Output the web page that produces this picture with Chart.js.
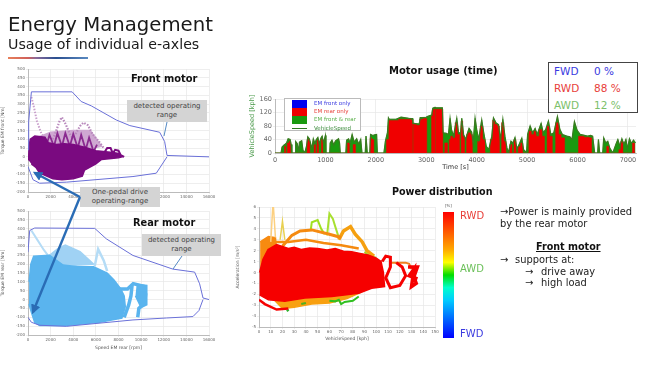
<!DOCTYPE html>
<html lang="en">
<head>
<meta charset="UTF-8">
<title>Energy Management</title>
<script src="https://cdn.jsdelivr.net/npm/chart.js"></script>
<style>
  html, body { margin: 0; padding: 0; background: #fff; }
  #slide { position: relative; width: 653px; height: 367px; overflow: hidden; font-family: "DejaVu Sans", sans-serif; filter: blur(0.5px); }
  #slide canvas { position: absolute; }
  .t { position: absolute; white-space: nowrap; line-height: 1; color: #222; }
  .b { font-weight: bold; color: #111; }
  .box { position: absolute; background: #d4d4d4; color: #444; font-size: 7px; line-height: 9px; text-align: center; box-sizing: border-box; }
  #rule { position: absolute; left: 8px; top: 57px; width: 80px; height: 2px; background: linear-gradient(90deg, #e8805a 0%, #d0605a 25%, #8a6a9a 35%, #2a4f90 60%, #5a8ac0 100%); }
  #usage { position: absolute; left: 548px; top: 62px; width: 90px; height: 51px; border: 1px solid #444; box-sizing: border-box; background: #fff; }
  #legend { position: absolute; left: 284px; top: 98px; width: 77px; height: 33px; border: 1px solid #bbb; box-sizing: border-box; background: #fff; }
  #legend span { position: absolute; left: 29px; font-size: 5.5px; line-height: 1; white-space: nowrap; }
  #legend i { position: absolute; left: 7px; width: 15px; }
  #colorbar { position: absolute; left: 443px; top: 212px; width: 11px; height: 126px; background: linear-gradient(180deg, #f00 0%, #f60 18%, #fa0 30%, #ff0 40%, #0d0 50%, #0fc 60%, #0cf 70%, #06f 85%, #00f 100%); }
  svg { position: absolute; left: 0; top: 0; }
</style>
</head>
<body>
<div id="slide">
  <canvas id="front"></canvas>
  <canvas id="rear"></canvas>
  <canvas id="motor"></canvas>
  <canvas id="power"></canvas>

  <div class="t" style="left:8px;top:15px;font-size:19.7px;color:#1a1a1a">Energy Management</div>
  <div class="t" style="left:8px;top:37px;font-size:14.2px;color:#1a1a1a">Usage of individual e-axles</div>
  <div id="rule"></div>

  <div class="t b" style="left:131px;top:74px;font-size:9.9px">Front motor</div>
  <div class="t b" style="left:133px;top:218px;font-size:9.8px">Rear motor</div>
  <div class="t b" style="left:389px;top:66px;font-size:10px">Motor usage (time)</div>
  <div class="t b" style="left:392px;top:187px;font-size:9.6px">Power distribution</div>

  <div class="box" style="left:127px;top:100px;width:80px;height:22px;padding-top:2px">detected operating<br>range</div>
  <div class="box" style="left:142px;top:234px;width:79px;height:22px;padding-top:2px">detected operating<br>range</div>
  <div class="box" style="left:80px;top:187px;width:80px;height:20px;padding-top:1px">One-pedal drive<br>operating-range</div>

  <svg width="653" height="367" viewBox="0 0 653 367">
    <defs>
      <marker id="tip" markerWidth="4" markerHeight="4" refX="3" refY="2" orient="auto"><path d="M0,0 L4,2 L0,4 z" fill="#2a6cb5"/></marker>
    </defs>
    <line x1="80" y1="197" x2="35" y2="173" stroke="#2a6cb5" stroke-width="2.4" marker-end="url(#tip)"/>
    <line x1="80" y1="197" x2="33" y2="312" stroke="#2a6cb5" stroke-width="2.4" marker-end="url(#tip)"/>
    <line x1="167" y1="122" x2="164" y2="136" stroke="#2a6cb5" stroke-width="0.8"/>
    <line x1="182" y1="256" x2="173" y2="269" stroke="#2a6cb5" stroke-width="0.8"/>
  </svg>

  <div id="usage"></div>
  <div class="t" style="left:554px;top:66px;font-size:10.5px;color:#3a3ae0">FWD</div>
  <div class="t" style="left:594px;top:66px;font-size:10.5px;color:#3a3ae0">0 %</div>
  <div class="t" style="left:554px;top:83px;font-size:10.5px;color:#e8403a">RWD</div>
  <div class="t" style="left:594px;top:83px;font-size:10.5px;color:#e8403a">88 %</div>
  <div class="t" style="left:554px;top:100px;font-size:10.5px;color:#7cc06a">AWD</div>
  <div class="t" style="left:594px;top:100px;font-size:10.5px;color:#7cc06a">12 %</div>

  <div id="legend"></div>

  <div id="colorbar"></div>
  <div class="t" style="left:445px;top:204px;font-size:4px;color:#555">[%]</div>
  <div class="t" style="left:460px;top:211px;font-size:10px;color:#e8403a">RWD</div>
  <div class="t" style="left:460px;top:264px;font-size:10px;color:#6cc05a">AWD</div>
  <div class="t" style="left:460px;top:329px;font-size:10px;color:#3a3ae0">FWD</div>

  <div class="t" style="left:500px;top:207px;font-size:9.9px">→Power is mainly provided</div>
  <div class="t" style="left:500px;top:219px;font-size:9.9px">by the rear motor</div>
  <div class="t b" style="left:536px;top:242px;font-size:9.6px;text-decoration:underline">Front motor</div>
  <div class="t" style="left:500px;top:255px;font-size:9.9px">→</div>
  <div class="t" style="left:515px;top:255px;font-size:9.9px">supports at:</div>
  <div class="t" style="left:525px;top:267px;font-size:9.9px">→</div>
  <div class="t" style="left:541px;top:267px;font-size:9.9px">drive away</div>
  <div class="t" style="left:525px;top:278px;font-size:9.9px">→</div>
  <div class="t" style="left:541px;top:278px;font-size:9.9px">high load</div>
</div>

<script>
// front motor, speed in rpm, torque in Nm
const frontLimitSpeed = [0, 60, 300, 3900, 4700, 5600, 7800, 9000, 11640, 12080, 12290, 16000];
const frontLimitTorque = [40, 200, 370, 370, 315, 290, 210, 178, 140, 87, 8, 0];
const frontLowSpeed = [0, 440, 1030, 3390, 9280, 11340, 12290];
const frontLowTorque = [-55, -130, -150, -144, -112, -93, 0];
const frontBlobSpeed = [50, 100, 200, 600, 1500, 1800, 2500, 3200, 4000, 5000, 6000, 7500, 8000, 8300, 8000, 6500, 6000, 5000, 4800, 4000, 3000, 2200, 1500, 1000, 700, 300];
const frontBlobTorque = [-20, 60, 100, 118, 112, 80, 70, 75, 70, 55, 35, 25, 20, 0, -5, -15, -40, -75, -110, -125, -130, -125, -105, -90, -60, -40];
const frontPaleSpeed = [1000, 2000, 4000, 5500, 6500, 5000, 1000];
const frontPaleTorque = [115, 140, 150, 150, 60, 40, 50];
const frontZigSpeed = [1600, 1900, 2300, 2600, 3000, 3300, 3700, 4000, 4400, 4700, 5100, 5400, 5800, 6100];
const frontZigTorque = [60, 125, 60, 135, 60, 135, 60, 130, 50, 125, 40, 110, 30, 70];
const frontTrail1Speed = [300, 500, 800, 1200, 1500];
const frontTrail1Torque = [340, 290, 200, 130, 100];
const frontTrail2Speed = [2200, 2500, 2800, 3000, 3300, 3700, 4000];
const frontTrail2Torque = [100, 150, 205, 225, 190, 130, 100];
const frontTrail3Speed = [4200, 4600, 4900, 5300, 5700, 6300, 6700];
const frontTrail3Torque = [130, 175, 195, 180, 130, 85, 50];
const frontTailSpeed = [6800, 7000, 7300, 7500, 7700, 8000, 8200, 8500];
const frontTailTorque = [30, 50, 50, 20, 40, 35, 10, 0];

// rear motor
const rearLimitSpeed = [0, 150, 590, 5900, 6920, 9280, 12800, 13260, 14730, 15170, 15470, 16000];
const rearLimitTorque = [268, 390, 404, 402, 343, 249, 172, 168, 155, 89, 9, 0];
const rearLowSpeed = [0, 295, 1030, 3390, 9280, 12230, 14580, 15110, 15470];
const rearLowTorque = [-100, -128, -145, -151, -115, -104, -96, -62, 0];
const rearBlobSpeed = [100, 250, 500, 1900, 3100, 4400, 5800, 7000, 7600, 8200, 8500, 8600, 8300, 6330, 3390, 1030, 590, 300, 90];
const rearBlobTorque = [100, 200, 245, 250, 195, 185, 185, 150, 110, 60, 20, -40, -105, -128, -147, -147, -128, -72, -25];
const rearPale1Speed = [300, 800, 1400, 2000];
const rearPale1Torque = [390, 340, 280, 230];
const rearPaleSpeed = [1900, 2700, 3300, 4600, 5800, 3100];
const rearPaleTorque = [250, 290, 308, 270, 200, 190];
const rearPale2Speed = [5900, 6200, 6700, 7000];
const rearPale2Torque = [190, 285, 220, 160];
const rearLoopSpeed = [7800, 8200, 8800, 9300, 10200, 10400, 10300, 9800, 9700];
const rearLoopTorque = [-60, 60, 60, 90, 75, 30, -20, -50, -100];
const rearLoop2Speed = [8500, 8900, 9100, 9200];
const rearLoop2Torque = [-100, -30, 20, 80];
const rearPatchSpeed = [9600, 10500, 10500, 10000, 9500];
const rearPatchTorque = [85, 80, -30, -45, 20];

// motor usage, time in s, speed in kph, rearOnly = height of the red part
const usageTime = [0, 120, 140, 180, 200, 230, 260, 300, 320, 335, 400, 410, 440, 470, 485, 530, 555, 590, 625, 650, 680, 700, 730, 760, 790, 820, 850, 880, 910, 935, 960, 1000, 1010, 1085, 1095, 1130, 1165, 1200, 1260, 1280, 1295, 1405, 1420, 1460, 1490, 1530, 1570, 1620, 1660, 1700, 1725, 1790, 1805, 1830, 1880, 1895, 1940, 1980, 2015, 2030, 2160, 2190, 2230, 2250, 2265, 2400, 2500, 2650, 2725, 2735, 2750, 2860, 2880, 3000, 3020, 3100, 3110, 3130, 3170, 3180, 3195, 3320, 3335, 3400, 3440, 3472, 3500, 3540, 3605, 3640, 3680, 3704, 3740, 3780, 3820, 3849, 3900, 3930, 3968, 4000, 4040, 4100, 4140, 4190, 4240, 4300, 4333, 4380, 4433, 4470, 4519, 4560, 4600, 4632, 4680, 4720, 4760, 4800, 4850, 4895, 4930, 4990, 5010, 5060, 5110, 5159, 5200, 5278, 5320, 5370, 5423, 5470, 5530, 5602, 5650, 5700, 5787, 5850, 5890, 5939, 5990, 6051, 6200, 6260, 6300, 6340, 6400, 6415, 6440, 6500, 6520, 6560, 6600, 6640, 6700, 6760, 6800, 6840, 6880, 6920, 6960, 6990, 7030, 7070, 7110, 7150];
const usageSpeed = [0, 0, 18, 24, 26, 30, 42, 40, 25, 0, 0, 34, 28, 5, 32, 36, 8, 0, 20, 48, 42, 32, 12, 42, 28, 40, 46, 26, 44, 50, 30, 52, 0, 0, 30, 38, 24, 36, 42, 30, 0, 0, 38, 42, 30, 55, 32, 42, 26, 40, 0, 0, 50, 0, 0, 55, 52, 54, 55, 0, 0, 35, 60, 104, 100, 100, 106, 103, 102, 88, 88, 86, 105, 106, 108, 112, 115, 133, 135, 135, 134, 134, 60, 58, 55, 103, 70, 50, 103, 60, 60, 103, 55, 40, 60, 73, 62, 30, 103, 70, 40, 98, 60, 20, 10, 50, 104, 90, 84, 40, 100, 50, 15, 2, 35, 30, 46, 12, 28, 44, 10, 2, 55, 80, 60, 73, 55, 88, 60, 70, 95, 55, 60, 108, 70, 55, 50, 48, 40, 93, 68, 55, 50, 52, 50, 0, 0, 40, 0, 0, 45, 30, 35, 15, 0, 25, 40, 20, 42, 25, 40, 12, 42, 28, 38, 30];
const usageRearOnly = [0, 0, 0, 0, 20, 0, 30, 35, 0, 0, 0, 0, 0, 0, 0, 0, 0, 0, 0, 40, 35, 0, 0, 0, 25, 0, 38, 0, 0, 40, 0, 0, 0, 0, 0, 0, 0, 0, 0, 0, 0, 0, 0, 30, 0, 0, 25, 0, 0, 0, 0, 0, 0, 0, 0, 45, 40, 0, 0, 0, 0, 0, 40, 40, 96, 96, 100, 100, 98, 0, 85, 82, 100, 102, 0, 0, 110, 128, 130, 0, 130, 130, 0, 30, 0, 40, 50, 45, 90, 55, 0, 95, 50, 0, 55, 60, 55, 0, 0, 0, 35, 80, 40, 0, 0, 40, 98, 85, 80, 0, 90, 35, 0, 0, 25, 0, 40, 0, 20, 30, 0, 0, 0, 65, 55, 65, 50, 70, 50, 0, 80, 50, 0, 90, 55, 45, 0, 0, 0, 0, 0, 50, 47, 45, 0, 0, 0, 0, 0, 0, 0, 0, 20, 0, 0, 0, 0, 10, 35, 0, 0, 0, 0, 0, 30, 0];
const usageTimeTicks = [0, 1000, 2000, 3000, 4000, 5000, 6000, 7000];
const usageLegendNames = ['EM front only', 'EM rear only', 'EM front & rear', 'VehicleSpeed'];

// power distribution, speed in kph, acceleration in m/s2
const powerBlobSpeed = [0.5, 3.4, 7.7, 15, 25, 30, 36, 43, 50, 58, 65, 72, 79, 86, 93, 100, 104, 106, 107, 96, 85, 62, 39, 22, 8, 0.5];
const powerBlobAccel = [0, 1.2, 2.1, 2.55, 2.2, 2.3, 2.1, 2.25, 2.2, 2.05, 2.2, 1.95, 1.9, 1.75, 1.6, 1.3, 1, 0, -1.3, -1.45, -1.9, -2.2, -2.35, -2.65, -2.5, -2.05];
const powerOrangeLowSpeed = [12, 20, 30, 45, 60, 75, 85, 60, 30];
const powerOrangeLowAccel = [-2.4, -3.3, -3.2, -2.9, -2.8, -2.4, -1.9, -2.1, -2.4];
const powerOrangeTopSpeed = [1, 8, 14, 15, 5, 1];
const powerOrangeTopAccel = [2.8, 3.3, 3.2, 2, -1, -1];
const powerArcSpeed = [20, 28, 35, 45, 60, 70];
const powerArcAccel = [2.4, 3.4, 3.8, 3.9, 3.5, 3.2];
const powerArc3Speed = [14, 25, 40, 55, 70, 85];
const powerArc3Accel = [2.8, 2.8, 3, 2.7, 2.5, 2.2];
const powerArc2Speed = [68, 72, 78, 82, 88, 92, 98];
const powerArc2Accel = [3, 3.8, 4.2, 3.5, 2.8, 2, 1.5];
const powerSpikeSpeed = [10, 12, 14];
const powerSpikeAccel = [2.8, 6.5, 3.2];
const powerSpike2Speed = [18, 20, 22];
const powerSpike2Accel = [3, 4.7, 3];
const powerLime1Speed = [44, 45, 50, 53, 56];
const powerLime1Accel = [3.8, 4.6, 4.8, 4, 3.5];
const powerLime2Speed = [58, 60, 63, 65, 68];
const powerLime2Accel = [3.4, 5.4, 4.9, 4.2, 3.2];
const powerRedLowSpeed = [0, 5, 15, 25];
const powerRedLowAccel = [-2.5, -2.9, -3.4, -3.3];
const powerRedRightSpeed = [105, 108, 112, 112, 108, 112, 120, 125, 122, 117];
const powerRedRightAccel = [1, 1.5, 1.4, 0.5, -0.5, -1.4, -1.2, -0.3, 0.5, 0.9];
const powerOrangeRightSpeed = [112, 125, 128, 130];
const powerOrangeRightAccel = [0.9, 0.9, 0.8, 0.3];
const powerEndSpeed = [127, 135, 132, 134, 130, 132, 128, 135];
const powerEndAccel = [0.5, 0.5, -0.4, -1, -1.3, 0.3, -0.3, -0.6];
const powerGreenSpeed = [60, 65, 68, 70, 73, 80, 85];
const powerGreenAccel = [-2.6, -2.65, -2.5, -2.9, -2.7, -2.6, -2.2];
const powerGreen2Speed = [36, 40];
const powerGreen2Accel = [-2.9, -2.8];
const powerGreen3Speed = [24, 25];
const powerGreen3Accel = [-3.4, -3.55];
const powerLime3Speed = [90, 94, 100];
const powerLime3Accel = [1.9, 1.5, 1.35];

const gridColor = '#e6e6e6';
const tickColor = '#666';
const fontName = '"DejaVu Sans", sans-serif';

function pts(xs, ys) {
  return xs.map((x, i) => ({ x: x, y: ys[i] }));
}
function line(xs, ys, color, width) {
  return { data: pts(xs, ys), showLine: true, borderColor: color, borderWidth: width, pointRadius: 0, fill: false };
}
function area(xs, ys, color) {
  return { data: pts(xs, ys), showLine: true, borderColor: color, borderWidth: 1.5, backgroundColor: color, pointRadius: 0, fill: 'shape' };
}
function dots(xs, ys, color, width) {
  return { data: pts(xs, ys), showLine: true, borderColor: color, borderWidth: width, borderDash: [1.5, 1.5], pointRadius: 0, fill: false };
}

// p = plot box on the page, m = room round it for the axes
function scatter(id, p, m, xOpt, yOpt, datasets) {
  const el = document.getElementById(id);
  el.width = p.w + m.l + m.r;
  el.height = p.h + m.t + m.b;
  el.style.left = (p.x - m.l) + 'px';
  el.style.top = (p.y - m.t) + 'px';
  const tickFont = { family: fontName, size: xOpt.font || 4 };
  const titleOpt = o => ({ display: !!o.title, text: o.title, color: o.titleColor || '#555', padding: 0, font: { family: fontName, size: o.titleSize || 4.5 } });
  return new Chart(el, {
    type: 'scatter',
    data: { datasets: datasets },
    options: {
      responsive: false,
      animation: false,
      layout: { padding: { top: m.t, right: m.r, left: 0, bottom: 0 } },
      plugins: { legend: { display: false }, tooltip: { enabled: false } },
      scales: {
        x: {
          type: 'linear', min: xOpt.min, max: xOpt.max,
          title: titleOpt(xOpt),
          grid: { color: gridColor, lineWidth: 0.7, tickLength: 2 },
          border: { color: '#bbb' },
          ticks: { stepSize: xOpt.step, color: tickColor, font: tickFont, padding: 1, maxRotation: 0, autoSkip: false, callback: v => String(v) },
          afterBuildTicks: s => { if (xOpt.ticks) s.ticks = xOpt.ticks.map(v => ({ value: v })); },
          afterFit: s => { s.height = m.b; s.paddingLeft = 0; s.paddingRight = 0; }
        },
        y: {
          type: 'linear', min: yOpt.min, max: yOpt.max,
          title: titleOpt(yOpt),
          grid: { color: gridColor, lineWidth: 0.7, tickLength: 2 },
          border: { color: '#bbb' },
          ticks: { stepSize: yOpt.step, color: tickColor, font: tickFont, padding: 1, autoSkip: false },
          afterFit: s => { s.width = m.l; s.paddingTop = 0; s.paddingBottom = 0; }
        }
      }
    }
  });
}

const purple = '#7a0a80';
const purplePale = '#c9a0cc';
const limit = '#6a70d8';
const lightBlue = '#5ab4ee';
const paleBlue = '#b5dcf6';

scatter('front', { x: 28, y: 69, w: 181, h: 123 }, { l: 28, r: 10, t: 4, b: 10 },
  { min: 0, max: 16000, step: 2000 },
  { min: -200, max: 500, step: 50, title: 'Torque EM front [Nm]' },
  [
    line(frontLimitSpeed, frontLimitTorque, limit, 1),
    line(frontLowSpeed, frontLowTorque, limit, 1),
    line(frontTailSpeed, frontTailTorque, purple, 2),
    area(frontBlobSpeed, frontBlobTorque, purple),
    line(frontZigSpeed, frontZigTorque, '#8a2a90', 1.8),
    dots(frontTrail1Speed, frontTrail1Torque, purplePale, 2),
    dots(frontTrail2Speed, frontTrail2Torque, '#b888bc', 2.2),
    dots(frontTrail3Speed, frontTrail3Torque, '#b888bc', 2.2),
    area(frontPaleSpeed, frontPaleTorque, '#cfa8d2')
  ]);

scatter('rear', { x: 28, y: 211, w: 181, h: 124 }, { l: 28, r: 10, t: 4, b: 16 },
  { min: 0, max: 16000, step: 2000, title: 'Speed EM rear [rpm]' },
  { min: -200, max: 500, step: 50, title: 'Torque EM rear [Nm]' },
  [
    line(rearLimitSpeed, rearLimitTorque, limit, 1),
    line(rearLowSpeed, rearLowTorque, limit, 1),
    area(rearBlobSpeed, rearBlobTorque, lightBlue),
    area(rearPatchSpeed, rearPatchTorque, lightBlue),
    line(rearLoopSpeed, rearLoopTorque, lightBlue, 3.5),
    line(rearLoop2Speed, rearLoop2Torque, lightBlue, 3.5),
    line(rearPale1Speed, rearPale1Torque, paleBlue, 2),
    line(rearPale2Speed, rearPale2Torque, paleBlue, 2.5),
    area(rearPaleSpeed, rearPaleTorque, '#a0d2f4')
  ]);

const redUsage = { data: pts(usageTime, usageRearOnly), showLine: true, stepped: 'middle', borderColor: '#f00000', borderWidth: 0.5, backgroundColor: '#f00000', pointRadius: 0, fill: 'origin' };
const greenUsage = { data: pts(usageTime, usageSpeed), showLine: true, borderColor: '#1a9a10', borderWidth: 0.5, backgroundColor: '#1a9a10', pointRadius: 0, fill: 'origin' };

scatter('motor', { x: 275, y: 99, w: 361, h: 54 }, { l: 27, r: 8, t: 6, b: 18 },
  { min: 0, max: 7160, ticks: usageTimeTicks, title: 'Time [s]', titleSize: 6.5, font: 6.5, titleColor: '#333' },
  { min: 0, max: 160, step: 40, title: 'VehicleSpeed [kph]', titleSize: 6.5, titleColor: '#4a9a4a' },
  [line(usageTime, usageSpeed, '#3a7a20', 1.2), redUsage, greenUsage]);

scatter('power', { x: 259, y: 207, w: 176, h: 120 }, { l: 24, r: 8, t: 4, b: 15 },
  { min: 0, max: 150, step: 10, title: 'VehicleSpeed [kph]' },
  { min: -5, max: 6, step: 1, title: 'Acceleration [m/s²]' },
  [
    area(powerBlobSpeed, powerBlobAccel, '#f60000'),
    line(powerRedLowSpeed, powerRedLowAccel, '#f60000', 2.5),
    line(powerRedRightSpeed, powerRedRightAccel, '#f60000', 3),
    line(powerEndSpeed, powerEndAccel, '#f60000', 3.5),
    line(powerOrangeRightSpeed, powerOrangeRightAccel, '#f08020', 2),
    line(powerArcSpeed, powerArcAccel, '#f58a10', 3),
    line(powerArc3Speed, powerArc3Accel, '#f58a10', 2.5),
    line(powerArc2Speed, powerArc2Accel, '#f5a010', 3.5),
    line(powerSpikeSpeed, powerSpikeAccel, '#fcd080', 1.5),
    line(powerSpike2Speed, powerSpike2Accel, '#e8d050', 1.5),
    line(powerLime1Speed, powerLime1Accel, '#a0e020', 2),
    line(powerLime2Speed, powerLime2Accel, '#a8e030', 2),
    line(powerLime3Speed, powerLime3Accel, '#a0d820', 2),
    line(powerGreenSpeed, powerGreenAccel, '#30c020', 2),
    line(powerGreen2Speed, powerGreen2Accel, '#50b020', 2),
    line(powerGreen3Speed, powerGreen3Accel, '#30b030', 2.5),
    area(powerOrangeLowSpeed, powerOrangeLowAccel, '#f8a010'),
    area(powerOrangeTopSpeed, powerOrangeTopAccel, '#f78a10')
  ]);

// legend of the motor usage plot
const legendColors = ['#0000f0', '#f00000', '#1a9a10', '#2e7a20'];
const legendText = ['#3a3ae0', '#e8403a', '#5ab04a', '#3a8a3a'];
const legendTops = [1, 9, 17, 26];
const legendEl = document.getElementById('legend');
usageLegendNames.forEach((name, i) => {
  const swatch = document.createElement('i');
  swatch.style.top = legendTops[i] + 'px';
  swatch.style.height = i === 3 ? '1px' : '8px';
  swatch.style.background = legendColors[i];
  if (i === 3) swatch.style.top = '29px';
  legendEl.appendChild(swatch);
  const label = document.createElement('span');
  label.textContent = name;
  label.style.top = (legendTops[i] + 1) + 'px';
  label.style.color = legendText[i];
  legendEl.appendChild(label);
});
</script>
</body>
</html>
